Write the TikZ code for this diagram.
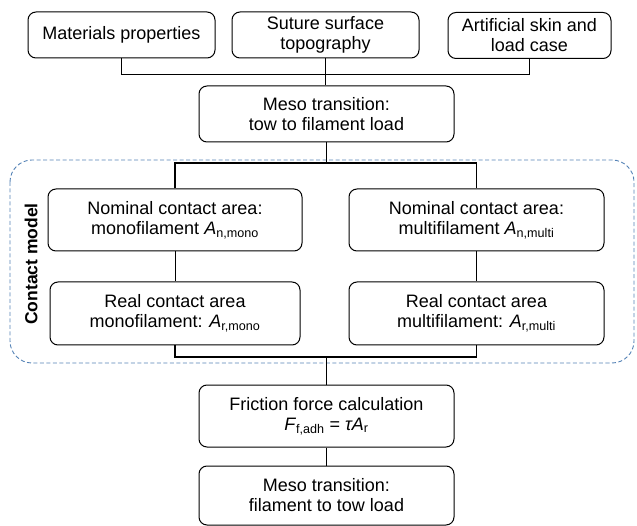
\documentclass[tikz,border=0pt]{standalone}
\usepackage{fontspec}
\setmainfont{Liberation Sans}
\definecolor{dashblue}{RGB}{84,130,182}

\begin{document}
\begin{tikzpicture}[x=1pt, y=-1pt,
        box/.style={draw, line width=1pt, rounded corners=8pt, align=center,
            font=\fontsize{18}{20}\selectfont, inner sep=0pt},
        bus/.style={line width=1.5pt},
        link/.style={line width=0.9pt}]
            \useasboundingbox (0,0) rectangle (637,526);

            % Contact model frame
            \draw[dashblue, line width=0.9pt, dash pattern=on 4pt off 2.5pt, rounded corners=22pt]
                (10,160) rectangle (634,363);
            \node[rotate=90, font=\fontsize{17.5}{20}\selectfont\bfseries] (cm) at (31,264) {Contact model};

            % Nodes
            \node[box, minimum width=187pt, minimum height=46pt] (mat) at (121.5,35) {Materials properties};
            \node[box, minimum width=187pt, minimum height=46pt] (sut) at (325.5,35) {Suture surface\\topography};
            \node[box, minimum width=163pt, minimum height=46pt] (art) at (529.5,35.5) {Artificial skin and\\load case};
            \node[box, minimum width=255pt, minimum height=56pt] (meso1) at (326.5,114) {Meso transition:\\tow to filament load};

            \node[box, minimum width=254pt, minimum height=62pt] (nomA) at (175,220) {Nominal contact area:\\monofilament \textit{A}\textsubscript{n,mono}};
            \node[box, minimum width=255pt, minimum height=62pt] (nomB) at (476.5,220) {Nominal contact area:\\multifilament \textit{A}\textsubscript{n,multi}};
            \node[box, minimum width=250pt, minimum height=63pt] (realA) at (175,313.5) {Real contact area\\monofilament: \textit{A}\textsubscript{r,mono}};
            \node[box, minimum width=255pt, minimum height=63pt] (realB) at (476.5,313.5) {Real contact area\\multifilament: \textit{A}\textsubscript{r,multi}};

            \node[box, minimum width=255pt, minimum height=62pt] (fric) at (326.5,416) {Friction force calculation\\\textit{F}\textsubscript{f,adh} = \textit{τA}\textsubscript{r}};
            \node[box, minimum width=255pt, minimum height=59pt] (meso2) at (326.5,495.5) {Meso transition:\\filament to tow load};

            \coordinate (split) at (326.5,163);
            \coordinate (join) at (326.5,357);

            % Edges
            \draw[bus] (mat.south) -- ++(0,16) -| (art.south);
            \draw[bus] (sut.south) -- (sut.south |- meso1.north);
            \draw[bus] (meso1.south) -- (split);
            \draw[bus] (nomA.north) |- (split) -| (nomB.north);
            \draw[link] (nomA.south) -- (realA.north);
            \draw[link] (nomB.south) -- (realB.north);
            \draw[bus] (realA.south) |- (join) -| (realB.south);
            \draw[bus] (join) -- (fric.north);
            \draw[bus] (fric.south) -- (meso2.north);
        \end{tikzpicture}
\end{document}
